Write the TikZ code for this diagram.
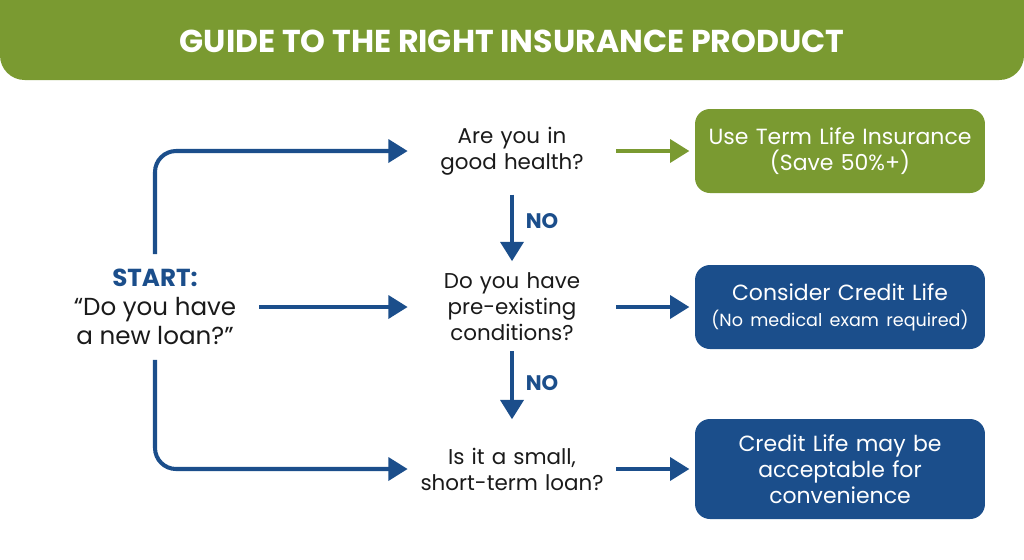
\documentclass[tikz,border=0pt]{standalone}
\usepackage{fontspec}
\setmainfont{Poppins}
\usetikzlibrary{arrows.meta, positioning}
\definecolor{leaf}{HTML}{7A9A31}
\definecolor{navy}{HTML}{1B4E8B}
\definecolor{ink} {HTML}{1A1A1A}

\begin{document}
\begin{tikzpicture}[
  x=0.02cm, y=-0.02cm,
  % Questions share one width so their sides line up with the arrow tips.
  question/.style={text=ink, font=\fontsize{12.2}{14.8}\selectfont, align=center,
                   text width=4.16cm, inner xsep=0pt, inner ysep=0pt},
  answer/.style={rounded corners=8.5pt, minimum width=5.8cm, minimum height=1.68cm,
                 text width=5.4cm, align=center, text=white, inner sep=0pt,
                 font=\fontsize{12.5}{14.8}\selectfont},
  flow/.style={-{Triangle[length=11pt, width=13pt]}, line width=2.3pt, draw=navy},
  okflow/.style={flow, draw=leaf},
  nolabel/.style={font=\fontsize{12}{14}\selectfont\bfseries, text=navy}
]
\useasboundingbox (0,0) rectangle (1024,559);

% --- Header band ---
\fill[leaf, rounded corners=14pt] (0,-40) rectangle (1024,80);
\node[font=\fontsize{18}{20}\selectfont\bfseries, text=white] (title) at (512,41)
  {GUIDE TO THE RIGHT INSURANCE PRODUCT};

% --- Start ---
\node[text=ink, font=\fontsize{14}{16.4}\selectfont, align=center,
      inner xsep=13pt, inner ysep=8.5pt] (start) at (155,307)
  {{\bfseries\color{navy}START:}\\“Do you have\\a new loan?”};

% --- Questions ---
\node[question] (health) at (512,151) {Are you in\\good health?};
\node[question] (precond) at (512,307) {Do you have\\pre-existing\\conditions?};
\node[question] (small) at (512,469) {Is it a small,\\short-term loan?};

% --- Answers ---
\node[answer, fill=leaf] (term) at (840,151) {Use Term Life Insurance\\(Save 50\%+)};
\node[answer, fill=navy] (credit) at (840,307)
  {Consider Credit Life\\{\fontsize{10}{13}\selectfont(No medical exam required)}};
\node[answer, fill=navy, minimum height=2cm] (conv) at (840,469)
  {Credit Life may be\\acceptable for\\convenience};

% --- Start arrows ---
\draw[flow, rounded corners=12pt] (start.north) |- (health.west);
\draw[flow] (start.east) -- (precond.west);
\draw[flow, rounded corners=12pt] (start.south) |- (small.west);

% --- NO arrows ---
\draw[flow, shorten <=11pt, shorten >=6.5pt] (health.south) -- (precond.north);
\draw[flow, shorten <=5.7pt, shorten >=16pt] (precond.south) -- (small.north);
\node[nolabel] (no1) at (542,221) {NO};
\node[nolabel] (no2) at (542,383) {NO};

% --- Answer arrows ---
\draw[okflow, shorten >=3pt] (health.east) -- (term.west);
\draw[flow, shorten >=3pt] (precond.east) -- (credit.west);
\draw[flow, shorten >=3pt] (small.east) -- (conv.west);

\end{tikzpicture}
\end{document}
